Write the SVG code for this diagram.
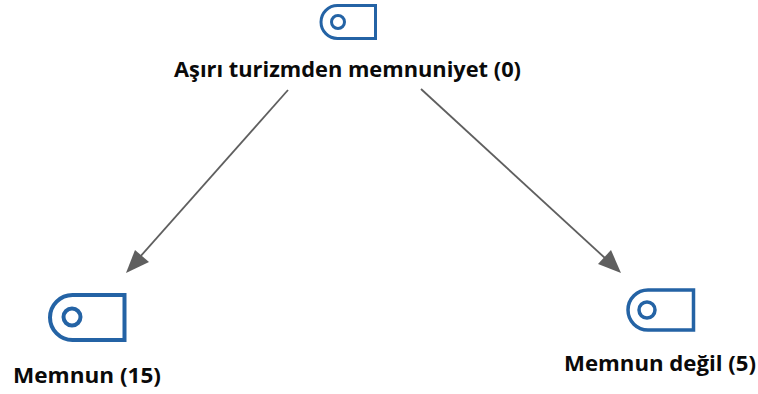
<svg xmlns="http://www.w3.org/2000/svg" width="758" height="394" viewBox="0 0 758 394">
<style>
.i{fill:none;stroke:#2463a5}
text{font-family:"Open Sans","Noto Sans","Liberation Sans",sans-serif;font-weight:700;font-size:20.500px;fill:#0a0a0a}
.c{stroke:#5f5f5f;stroke-width:1.8;fill:none}
.h{fill:#5f5f5f}
</style>
<rect width="758" height="394" fill="#fff"/>
<g id="connectors">
<path class="c" d="M288 90L139 258"/><path class="h" d="M126 273L135 250L149 262Z"/>
<path class="c" d="M421 89L606 259"/><path class="h" d="M621 273L598 264L611 250Z"/>
</g>
<g id="node-root">
<path class="i" stroke-width="3" d="M375.500 5.500H337.500A16.500 16.500 0 0 0 337.500 38.500H375.500Z"/>
<circle class="i" stroke-width="3" cx="338" cy="22" r="6.500"/>
<text x="174" y="77" textLength="347" lengthAdjust="spacingAndGlyphs">Aşırı turizmden memnuniyet (0)</text>
</g>
<g id="node-memnun">
<path class="i" stroke-width="4" d="M124.500 295H72.500A22.500 22.500 0 0 0 72.500 340H124.500Z"/>
<circle class="i" stroke-width="4" cx="72" cy="317" r="8.500"/>
<text x="13" y="383" textLength="148" lengthAdjust="spacingAndGlyphs">Memnun (15)</text>
</g>
<g id="node-degil">
<path class="i" stroke-width="3.500" d="M693.500 290H648A20 20 0 0 0 648 330H693.500Z"/>
<circle class="i" stroke-width="3.500" cx="647" cy="310" r="8"/>
<text x="564" y="371" textLength="192" lengthAdjust="spacingAndGlyphs">Memnun değil (5)</text>
</g>
</svg>
